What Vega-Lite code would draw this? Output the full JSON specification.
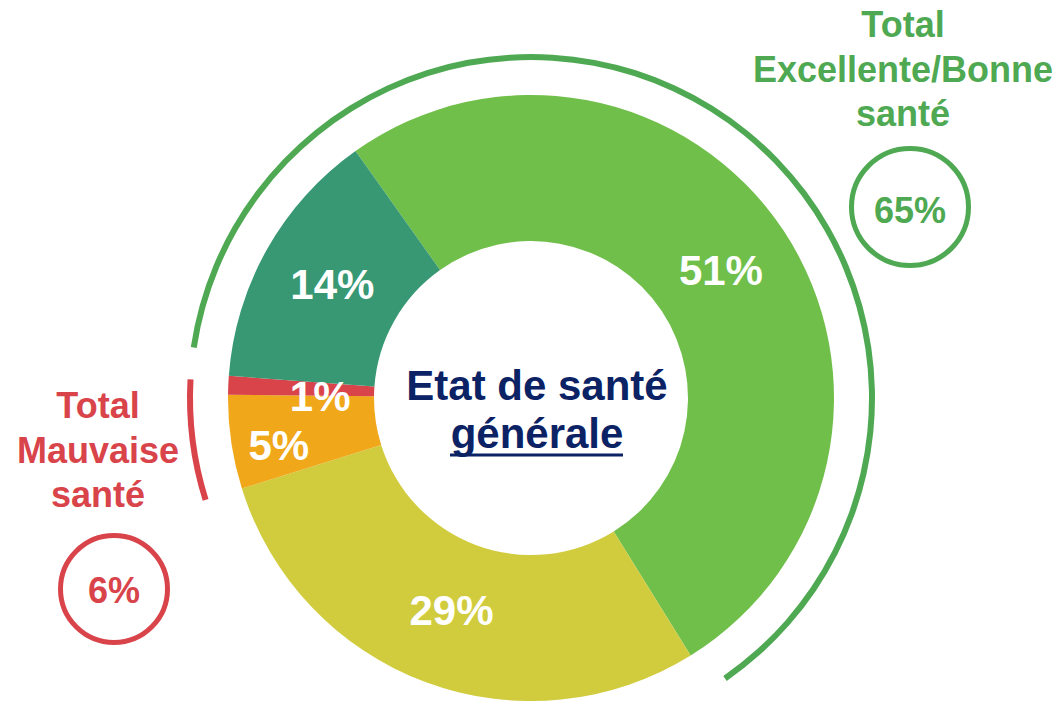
{
  "$schema": "https://vega.github.io/schema/vega-lite/v6.json",
  "width": 1062,
  "height": 616,
  "autosize": {"type": "none"},
  "padding": {"top": 90, "left": 0, "right": 0, "bottom": 0},
  "background": "white",
  "config": {"view": {"stroke": null}, "font": "Liberation Sans"},
  "datasets": {
    "etat": [
      {"etat": "Bonne", "part": 0.51, "ordre": 1},
      {"etat": "Moyenne", "part": 0.29, "ordre": 2},
      {"etat": "Mauvaise", "part": 0.05, "ordre": 3},
      {"etat": "Très mauvaise", "part": 0.01, "ordre": 4},
      {"etat": "Excellente", "part": 0.14, "ordre": 5}
    ],
    "totaux": [
      {"total": "Excellente/Bonne", "titre": "Total\nExcellente/Bonne\nsanté", "part": 0.65, "debut": -0.128, "fin": 0.502},
      {"total": "Mauvaise", "titre": "Total\nMauvaise\nsanté", "part": 0.06, "debut": 0.80, "fin": 0.857}
    ]
  },
  "layer": [
    {
      "data": {"name": "etat"},
      "mark": {"type": "arc", "innerRadius": 157, "outerRadius": 303},
      "encoding": {
        "theta": {"field": "part", "type": "quantitative", "stack": true, "scale": {"domain": [0, 1], "range": [-0.6178, 5.6654]}},
        "order": {"field": "ordre", "type": "quantitative"},
        "color": {"field": "etat", "type": "nominal", "legend": null,
          "scale": {"domain": ["Excellente", "Bonne", "Moyenne", "Mauvaise", "Très mauvaise"],
                    "range": ["#379873", "#70BF4B", "#D1CC3E", "#F0A71A", "#D9444B"]}}
      }
    },
    {
      "data": {"name": "totaux"},
      "mark": {"type": "arc", "innerRadius": 338, "outerRadius": 344},
      "encoding": {
        "theta": {"field": "debut", "type": "quantitative", "stack": null, "scale": {"domain": [0, 1], "range": [-0.6178, 5.6654]}},
        "theta2": {"field": "fin"},
        "color": {"field": "total", "type": "nominal", "legend": null,
          "scale": {"domain": ["Excellente/Bonne", "Mauvaise"], "range": ["#4EA952", "#D9444B"]}}
      }
    },
    {
      "data": {"name": "etat"},
      "mark": {"type": "text", "radius": 228, "fontSize": 42, "fontWeight": "bold", "color": "white"},
      "encoding": {
        "theta": {"field": "part", "type": "quantitative", "stack": true, "scale": {"domain": [0, 1], "range": [-0.6178, 5.6654]}},
        "order": {"field": "ordre", "type": "quantitative"},
        "detail": {"field": "etat", "type": "nominal"},
        "text": {"field": "part", "type": "quantitative", "format": ".0%"},
        "opacity": {"condition": {"test": "datum.part >= 0.1", "value": 1}, "value": 0}
      }
    },
    {
      "data": {"name": "etat"},
      "mark": {"type": "text", "radius": 255, "dy": 12, "fontSize": 42, "fontWeight": "bold", "color": "white"},
      "encoding": {
        "theta": {"field": "part", "type": "quantitative", "stack": true, "scale": {"domain": [0, 1], "range": [-0.6178, 5.6654]}},
        "order": {"field": "ordre", "type": "quantitative"},
        "detail": {"field": "etat", "type": "nominal"},
        "text": {"field": "part", "type": "quantitative", "format": ".0%"},
        "opacity": {"condition": {"test": "datum.etat == 'Mauvaise'", "value": 1}, "value": 0}
      }
    },
    {
      "data": {"name": "etat"},
      "mark": {"type": "text", "radius": 211, "dy": 9, "fontSize": 42, "fontWeight": "bold", "color": "white"},
      "encoding": {
        "theta": {"field": "part", "type": "quantitative", "stack": true, "scale": {"domain": [0, 1], "range": [-0.6178, 5.6654]}},
        "order": {"field": "ordre", "type": "quantitative"},
        "detail": {"field": "etat", "type": "nominal"},
        "text": {"field": "part", "type": "quantitative", "format": ".0%"},
        "opacity": {"condition": {"test": "datum.etat == 'Très mauvaise'", "value": 1}, "value": 0}
      }
    },
    {
      "data": {"values": [{"titre": "Etat de santé\ngénérale"}]},
      "mark": {"type": "text", "lineBreak": "\n", "fontSize": 42, "fontWeight": "bold", "color": "#0B2265", "baseline": "alphabetic", "lineHeight": 48,
        "x": {"expr": "width/2 + 6"}, "y": {"expr": "height/2 + 2"}},
      "encoding": {"text": {"field": "titre", "type": "nominal"}}
    },
    {
      "data": {"values": [{"trait": "générale"}]},
      "mark": {"type": "rule", "strokeWidth": 3, "color": "#0B2265"},
      "encoding": {
        "x": {"value": {"expr": "width/2 - 81"}},
        "x2": {"value": {"expr": "width/2 + 92"}},
        "y": {"value": {"expr": "height/2 + 57"}}
      }
    },
    {
      "data": {"name": "totaux"},
      "transform": [{"filter": "datum.total == 'Excellente/Bonne'"}],
      "layer": [
        {
          "mark": {"type": "text", "lineBreak": "\n", "fontSize": 36, "fontWeight": "bold", "color": "#4EA952", "baseline": "alphabetic", "lineHeight": 44.5,
            "x": {"expr": "width/2 + 372"}, "y": {"expr": "height/2 - 361"}},
          "encoding": {"text": {"field": "titre", "type": "nominal"}}
        },
        {
          "mark": {"type": "point", "shape": "circle", "filled": false, "size": 13689, "strokeWidth": 5, "color": "#4EA952", "opacity": 1,
            "x": {"expr": "width/2 + 379"}, "y": {"expr": "height/2 - 191"}},
          "encoding": {}
        },
        {
          "mark": {"type": "text", "fontSize": 36, "fontWeight": "bold", "color": "#4EA952", "baseline": "alphabetic",
            "x": {"expr": "width/2 + 379"}, "y": {"expr": "height/2 - 175"}},
          "encoding": {"text": {"field": "part", "type": "quantitative", "format": ".0%"}}
        }
      ]
    },
    {
      "data": {"name": "totaux"},
      "transform": [{"filter": "datum.total == 'Mauvaise'"}],
      "layer": [
        {
          "mark": {"type": "text", "lineBreak": "\n", "fontSize": 36, "fontWeight": "bold", "color": "#D9444B", "baseline": "alphabetic", "lineHeight": 44.5,
            "x": {"expr": "width/2 - 433"}, "y": {"expr": "height/2 + 20"}},
          "encoding": {"text": {"field": "titre", "type": "nominal"}}
        },
        {
          "mark": {"type": "point", "shape": "circle", "filled": false, "size": 11449, "strokeWidth": 5, "color": "#D9444B", "opacity": 1,
            "x": {"expr": "width/2 - 417"}, "y": {"expr": "height/2 + 191"}},
          "encoding": {}
        },
        {
          "mark": {"type": "text", "fontSize": 36, "fontWeight": "bold", "color": "#D9444B", "baseline": "alphabetic",
            "x": {"expr": "width/2 - 417"}, "y": {"expr": "height/2 + 205"}},
          "encoding": {"text": {"field": "part", "type": "quantitative", "format": ".0%"}}
        }
      ]
    }
  ],
  "resolve": {"scale": {"color": "independent"}}
}
